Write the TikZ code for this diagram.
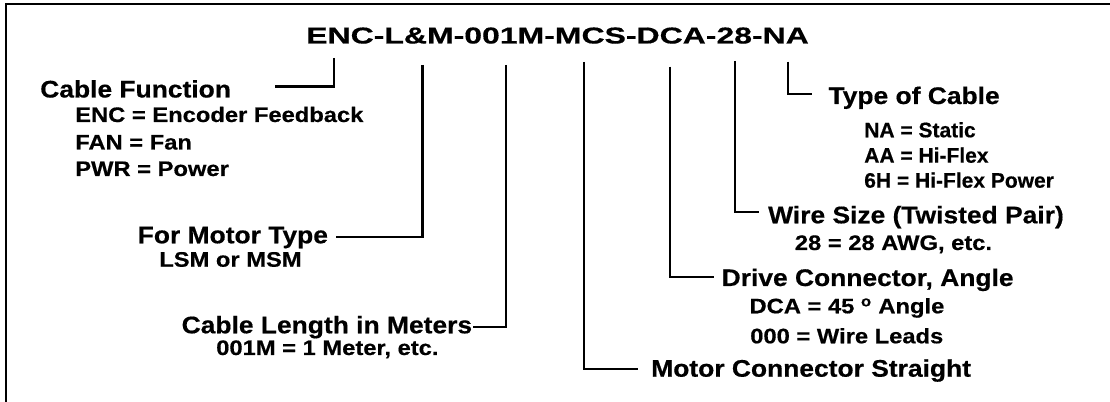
\documentclass[tikz,border=0pt]{standalone}
\usepackage{fontspec}
\setmainfont{Liberation Sans}
\newfontfamily\codefont[FakeStretch=1.39, FakeBold=0.5]{Liberation Sans}
\newfontfamily\headfont[FakeStretch=1.10, FakeBold=0.5]{Liberation Sans}
\newfontfamily\subfont[FakeStretch=1.13, FakeBold=0.5]{Liberation Sans}
\newfontfamily\narrowfont[FakeStretch=1.0, FakeBold=0.5]{Liberation Sans}
\usepackage{tikz}

\begin{document}
\begin{tikzpicture}[x=0.75pt, y=-0.75pt,
    codetext/.style={font=\codefont\bfseries\fontsize{17.25}{20}\selectfont, inner sep=0pt, anchor=base west},
    headtext/.style={font=\headfont\bfseries\fontsize{18}{21}\selectfont, inner sep=0pt, anchor=base west},
    subtext/.style={font=\subfont\bfseries\fontsize{15.75}{18}\selectfont, inner sep=0pt, anchor=base west},
    narrowtext/.style={subtext, font=\narrowfont\bfseries\fontsize{15.75}{18}\selectfont},
    leader/.style={line width=1.6pt}]
  \useasboundingbox (0,0) rectangle (1110,402);
  % frame (open to the right and below)
  \draw[line width=1.6pt] (5.8,410) -- (5.8,4) -- (1115,4);
  % part number
  \node[codetext] (code) at (306,43.5) {ENC-L\&M-001M-MCS-DCA-28-NA};
  % cable function
  \node[headtext] (cf) at (40,97.5) {Cable Function};
  \node[subtext] (cfEnc) at (75,122) {ENC = Encoder Feedback};
  \node[subtext] (cfFan) at (75,149.5) {FAN = Fan};
  \node[subtext] (cfPwr) at (75,176) {PWR = Power};
  % motor type
  \node[headtext] (mt) at (137.5,243.3) {For Motor Type};
  \node[subtext] (mtSub) at (159,266.7) {LSM or MSM};
  % cable length
  \node[headtext] (len) at (181.4,333.3) {Cable Length in Meters};
  \node[subtext] (lenSub) at (216,355) {001M = 1 Meter, etc.};
  % motor connector
  \node[headtext] (mc) at (651,376.7) {Motor Connector Straight};
  % drive connector
  \node[headtext] (dc) at (721.4,286) {Drive Connector, Angle};
  \node[subtext] (dcDca) at (749.3,313.3) {DCA = 45 \textsuperscript{o} Angle};
  \node[subtext] (dcWire) at (750,343.3) {000 = Wire Leads};
  % wire size
  \node[headtext] (ws) at (767.9,223.3) {Wire Size (Twisted Pair)};
  \node[subtext] (wsSub) at (794.6,250) {28 = 28 AWG, etc.};
  % type of cable
  \node[headtext] (tc) at (828.3,104) {Type of Cable};
  \node[narrowtext] (tcNa) at (864,137.3) {NA = Static};
  \node[narrowtext] (tcAa) at (864,162.7) {AA = Hi-Flex};
  \node[narrowtext] (tcSixH) at (864,187.7) {6H = Hi-Flex Power};
  % leader lines from the part number
  \coordinate (encTop) at (334,58);
  \coordinate (encEnd) at (275,86.5);
  \coordinate (lmTop) at (422.5,65);
  \coordinate (lmEnd) at (335.7,236.7);
  \coordinate (lenTop) at (506.4,65);
  \coordinate (lenEnd) at (473,326.7);
  \coordinate (mcsTop) at (584,62);
  \coordinate (mcsEnd) at (637.5,369.3);
  \coordinate (dcaTop) at (670,66.7);
  \coordinate (dcaEnd) at (713.6,276.7);
  \coordinate (awgTop) at (735,61);
  \coordinate (awgEnd) at (759,211.7);
  \coordinate (naTop) at (788.3,61.7);
  \coordinate (naEnd) at (811.7,94);
  \draw[leader] (encTop) |- (encEnd);
  \draw[leader] (lmTop) |- (lmEnd);
  \draw[leader] (lenTop) |- (lenEnd);
  \draw[leader] (mcsTop) |- (mcsEnd);
  \draw[leader] (dcaTop) |- (dcaEnd);
  \draw[leader] (awgTop) |- (awgEnd);
  \draw[leader] (naTop) |- (naEnd);
\end{tikzpicture}
\end{document}
